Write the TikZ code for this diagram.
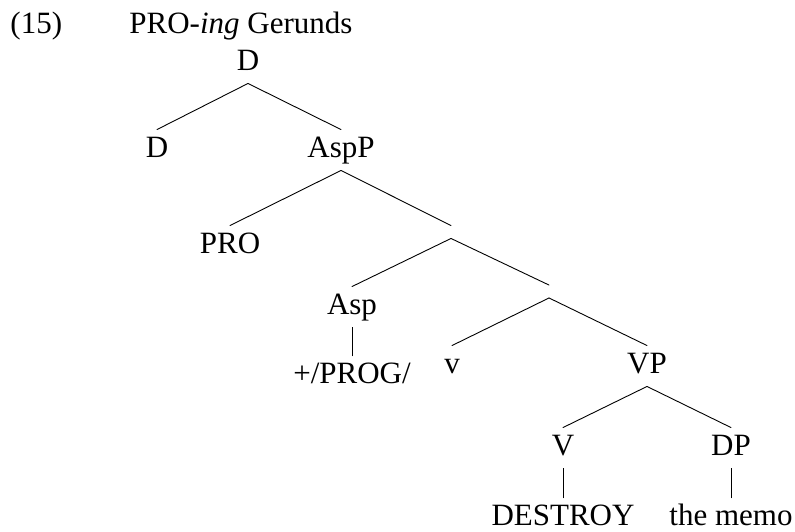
\documentclass[tikz,border=0pt]{standalone}
\usepackage{fontspec}
\setmainfont{Liberation Serif}
\begin{document}
\begin{tikzpicture}[x=1pt,y=-1pt,line join=round,line cap=round,line width=.9pt,
		font=\fontsize{31}{37}\selectfont,
		cat/.style={inner xsep=2pt,inner ysep=7pt,text height=20pt,text depth=6pt},
		bar/.style={inner sep=0pt,minimum height=12pt,minimum width=0pt}]
	\useasboundingbox (0,0) rectangle (795,531);
	\node[anchor=base west,inner sep=0pt] (num) at (10,33) {(15)};
	\node[anchor=base west,inner sep=0pt] (title) at (129,33) {PRO-\textit{ing} Gerunds};
	% tree
	\node[cat,anchor=base] (Dtop) at (248,70) {D};
	\node[cat,anchor=base] (Dhead) at (157,157) {D};
	\node[cat,anchor=base] (AspP) at (341,157) {AspP};
	\node[cat,anchor=base] (PRO) at (230,253) {PRO};
	\node[bar] (AspBar) at (451,232) {};
	\node[cat,anchor=base] (Asp) at (352,314) {Asp};
	\node[bar] (vP) at (549,291.5) {};
	\node[cat,anchor=base] (prog) at (352,383) {+/PROG/};
	\node[cat,anchor=base] (vhead) at (452,373) {v};
	\node[cat,anchor=base] (VP) at (647,373) {VP};
	\node[cat,anchor=base] (Vhead) at (563,455) {V};
	\node[cat,anchor=base] (DP) at (731,455) {DP};
	\node[cat,anchor=base] (destroy) at (563,525) {DESTROY};
	\node[cat,anchor=base] (memo) at (731,525) {the memo};
	\foreach \a/\b in {Dtop/Dhead,Dtop/AspP,AspP/PRO,AspP/AspBar,AspBar/Asp,AspBar/vP,
			Asp/prog,vP/vhead,vP/VP,VP/Vhead,VP/DP,Vhead/destroy,DP/memo}
		\draw (\a.south) -- (\b.north);
\end{tikzpicture}
\end{document}
